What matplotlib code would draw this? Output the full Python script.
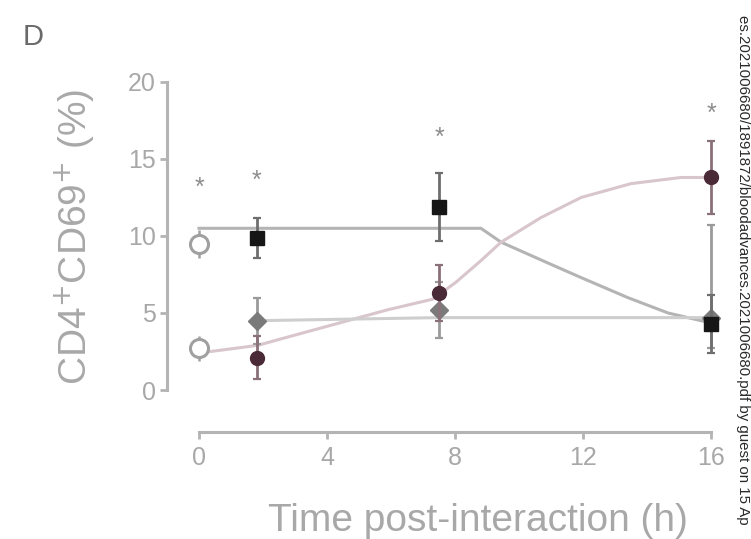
import numpy as np
import matplotlib
matplotlib.use("Agg")
import matplotlib.pyplot as plt

plt.rcParams['font.family'] = ['Liberation Sans', 'DejaVu Sans']

# ---- data ----
time_ticks = [0, 4, 8, 12, 16]
y_ticks = [0, 5, 10, 15, 20]

# baseline (open circles)
base_t = [0, 0]
base_mean = [9.5, 2.7]
base_err = [0.9, 0.8]

# sampled time points
sample_t = [1.8, 7.5, 16]
a_mean = [9.9, 11.9, 4.3]
a_err = [1.3, 2.2, 1.9]
b_mean = [2.1, 6.3, 13.8]
b_err = [1.4, 1.8, 2.4]
c_mean = [4.5, 5.2, 4.7]
c_err_low = [1.5, 1.8, 2.0]
c_err_high = [1.5, 1.8, 6.0]

# significance marks
star_t = [0, 1.8, 7.5, 16]
star_y = [13.1, 13.6, 16.4, 17.9]

# trend curves
curve_a_t = [0, 7.5, 8.81, 9.44, 10.9, 11.94, 13.4, 14.66, 16]
curve_a_y = [10.5, 10.5, 10.5, 9.6, 8.25, 7.3, 6.0, 5.0, 4.35]
curve_b_t = [0, 1.84, 2.53, 5.88, 7.31, 8.03, 8.81, 9.44, 10.69, 11.94, 13.5, 15.06, 16]
curve_b_y = [2.4, 2.9, 3.3, 5.2, 5.9, 7.0, 8.4, 9.6, 11.2, 12.5, 13.4, 13.8, 13.8]
curve_c_t = [1.8, 7.5, 16]
curve_c_y = [4.5, 4.7, 4.7]

W, H = 751, 539
fig = plt.figure(figsize=(W / 100, H / 100), dpi=100)

# axes box in pixels
left_px, right_px, top_px, bottom_px = 167, 725, 70, 432
ax = fig.add_axes([left_px / W, 1 - bottom_px / H,
                   (right_px - left_px) / W, (bottom_px - top_px) / H])

px_per_h = 32.0
x0_px = 199
ax.set_xlim((left_px - x0_px) / px_per_h, (right_px - x0_px) / px_per_h)
y0_px, px_per_unit = 390, 15.4
ax.set_ylim((y0_px - bottom_px) / px_per_unit, (y0_px - top_px) / px_per_unit)

axis_col = '#b4b4b4'
text_col = '#a8a8a8'

for s in ['top', 'right']:
    ax.spines[s].set_visible(False)
ax.spines['left'].set_bounds(0, 20)
ax.spines['bottom'].set_bounds(0, 16)
for s in ['left', 'bottom']:
    ax.spines[s].set_color(axis_col)
    ax.spines[s].set_linewidth(2.2)

ax.set_xticks(time_ticks)
ax.set_yticks(y_ticks)
ax.tick_params(axis='both', colors=axis_col, width=2.0, length=5,
               labelcolor=text_col, labelsize=18)
ax.tick_params(axis='x', pad=5)
ax.tick_params(axis='y', pad=3)

# trend lines
ax.plot(curve_a_t, curve_a_y, color='#b4b4b4', lw=2.2, zorder=2, clip_on=False)
ax.plot(curve_b_t, curve_b_y, color='#d8c6cc', lw=2.2, zorder=2, clip_on=False)
ax.plot(curve_c_t, curve_c_y, color='#cecece', lw=2.2, zorder=2, clip_on=False)

# baseline points
ax.errorbar(base_t, base_mean, yerr=base_err, fmt='o', ms=13, mfc='white',
            mec='#a0a0a0', mew=2.2, ecolor='#a0a0a0', elinewidth=1.8,
            capsize=0, zorder=4, clip_on=False)

# sampled series
ax.errorbar(sample_t, c_mean, yerr=[c_err_low, c_err_high], fmt='D', ms=9,
            color='#7a7a7a', ecolor='#9a9a9a', elinewidth=2.0, capsize=3,
            capthick=1.6, zorder=5, clip_on=False)
ax.errorbar(sample_t, b_mean, yerr=b_err, fmt='o', ms=10, color='#4a2a36',
            ecolor='#8a7078', elinewidth=2.0, capsize=3, capthick=1.6,
            zorder=6, clip_on=False)
ax.errorbar(sample_t, a_mean, yerr=a_err, fmt='s', ms=10, color='#161616',
            ecolor='#6e6e6e', elinewidth=2.0, capsize=3, capthick=1.6,
            zorder=7, clip_on=False)

for t, y in zip(star_t, star_y):
    ax.text(t, y, '*', ha='center', va='center', fontsize=18,
            color='#8c8c8c', zorder=8)

ax.patch.set_alpha(0)

fig.text(75 / W, 1 - 237 / H, 'CD4$^{+}$CD69$^{+}$ (%)', rotation=90,
         ha='center', va='center', fontsize=28, color=text_col)
fig.text(478 / W, 1 - 521 / H, 'Time post-interaction (h)',
         ha='center', va='center', fontsize=28, color=text_col)
fig.text(33 / W, 1 - 37 / H, 'D', ha='center', va='center', fontsize=21,
         color='#6a6a6a')

fig.text(743 / W, 0.5,
         'es.2021006680/1891872/bloodadvances.2021006680.pdf by guest on 15 Ap',
         rotation=-90, ha='center', va='center', fontsize=10.8, color='#2a2a2a')

fig.savefig('out.png', dpi=100)
